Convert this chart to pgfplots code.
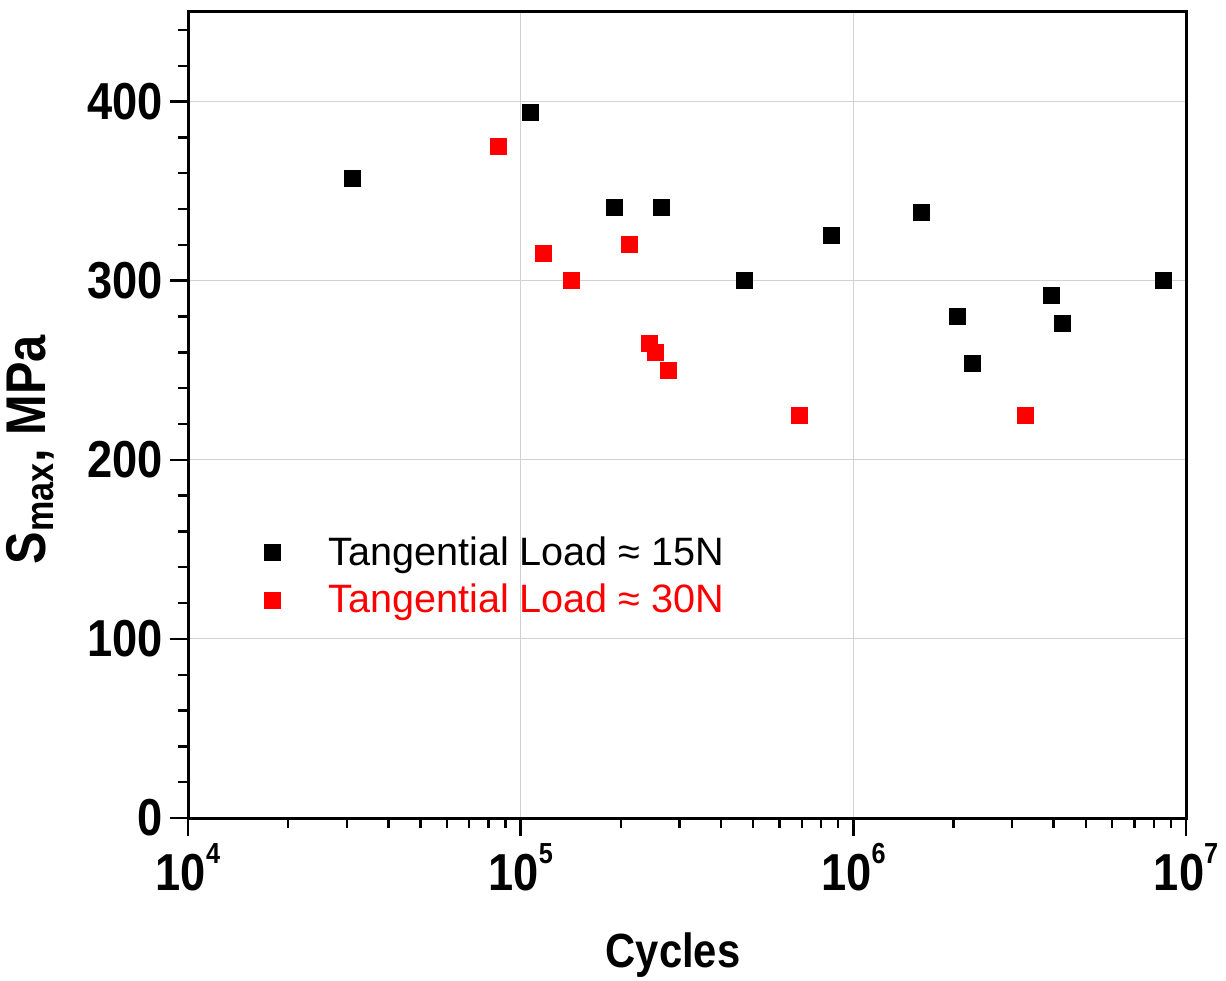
\documentclass[border=0pt]{standalone}
\usepackage{fontspec}
\setmainfont{Liberation Sans}
\newfontfamily\condbf[FakeStretch=0.87]{Liberation Sans}
\usepackage{pgfplots}
\pgfplotsset{compat=1.18}

\newcommand\tickfont{\condbf\bfseries\fontsize{26}{28}\selectfont}
\newcommand\pow[1]{10\raisebox{13.5pt}{\fontsize{14.5}{15}\selectfont #1}}

\begin{document}
\begin{tikzpicture}
\begin{axis}[
    name=ax,
    scale only axis,
    width=499pt, height=403pt,
    xmode=log,
    xmin=1e4, xmax=1e7,
    ymin=0, ymax=450,
    xtick={1e4,1e5,1e6,1e7},
    xticklabels={\pow{4},\pow{5},\pow{6},\pow{7}},
    ytick={0,100,200,300,400},
    minor ytick={20,40,...,440},
    tick align=outside,
    tick pos=left,
    major tick length=9pt,
    minor tick length=5pt,
    every tick/.style={black, line width=1.2pt},
    axis line style={line width=1.5pt},
    grid=major,
    major grid style={gray!35, line width=0.5pt},
    /pgf/number format/assume math mode=true,
    ticklabel style={font=\tickfont},
    xlabel={Cycles},
    xlabel style={at={(axis description cs:0.486,-0.186)}, anchor=base,
        font=\condbf\bfseries\fontsize{24}{26}\selectfont},
    ylabel={S\textsubscript{max}, MPa},
    ylabel style={at={(axis description cs:-0.158,0.457)}, anchor=center,
        font=\condbf\bfseries\fontsize{28}{30}\selectfont},
    legend style={at={(axis description cs:0.066,0.300)}, anchor=west,
        draw=none, fill=none, font=\fontsize{19.8}{22}\selectfont, row sep=4pt},
    legend cell align=left,
    legend image code/.code={\draw[#1, only marks] plot coordinates {(0pt,0pt)}; \path[draw=none] (-6pt,0pt) -- (26pt,0pt);},
]
\addplot[only marks, mark=square*, mark size=4pt, color=black] coordinates {
    (31100, 357)
    (107000, 394)
    (190800, 341)
    (264200, 341)
    (469300, 300)
    (862000, 325)
    (1597000, 338)
    (2049000, 280)
    (2273000, 254)
    (3928000, 292)
    (4239000, 276)
    (8529000, 300)
};
\addlegendentry{Tangential Load ≈ 15N}
\addplot[only marks, mark=square*, mark size=4pt, color=red] coordinates {
    (85500, 375)
    (116700, 315)
    (141700, 300)
    (211600, 320)
    (243000, 265)
    (253400, 260)
    (277300, 250)
    (686600, 225)
    (3281000, 225)
};
\addlegendentry{\textcolor{red}{Tangential Load ≈ 30N}}
\end{axis}
\path (ax.south west) ++(-94pt,-81pt) coordinate (bl);
\path (ax.north east) ++(20pt,6pt) coordinate (tr);
\pgfresetboundingbox
\path[use as bounding box] (bl) rectangle (tr);
\end{tikzpicture}
\end{document}
